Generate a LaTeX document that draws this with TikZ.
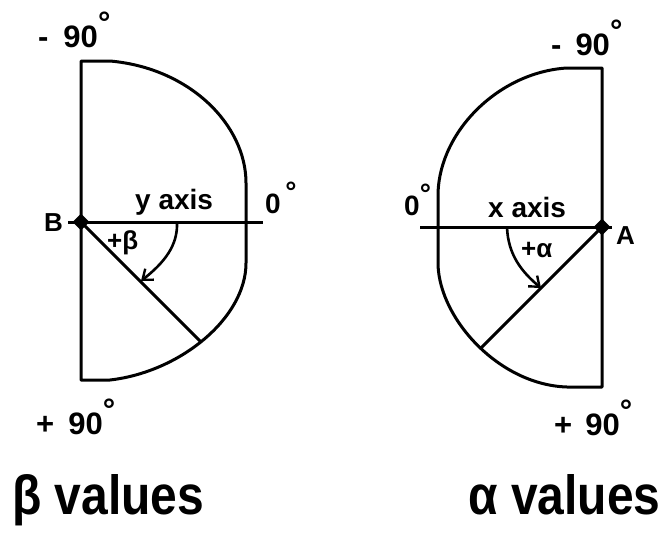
\documentclass[tikz,border=0pt]{standalone}
\usepackage{fontspec}
\setmainfont{Liberation Sans}
\usetikzlibrary{arrows.meta,shapes.geometric,intersections}
\newcommand{\degsym}{\raisebox{.42em}{°}}
\begin{document}
\begin{tikzpicture}[x=1pt,y=-1pt,
  outline/.style={line width=3pt, line join=round},
  pivot/.style={diamond, fill=black, inner sep=0pt, minimum size=17pt},
  lbl/.style={inner sep=0pt, anchor=base west, font=\bfseries\fontsize{28}{28}\selectfont},
  deglbl/.style={lbl, font=\bfseries\fontsize{31}{31}\selectfont},
  smalllbl/.style={lbl, font=\bfseries\fontsize{26}{26}\selectfont},
  biglbl/.style={lbl, font=\bfseries\fontsize{48}{48}\selectfont},
  anglearrow/.style={line width=2.6pt, -{Straight Barb[length=9pt,width=14pt,line width=2.4pt]}}
]
\useasboundingbox (0,0) rectangle (666,536);

% ---------- left figure (beta) ----------
\coordinate (B) at (81,222);
\draw[outline, name path=lshape] (81,61) -- (110,61)
  .. controls (190,68) and (246,125) .. (246,183) -- (246,263)
  .. controls (246,318) and (180,372) .. (110,380) -- (81,380) -- cycle;
\path[name path=ldiag] (91,232) -- (260,401);
\path[name intersections={of=lshape and ldiag, by=Bend}];
\draw[outline] (B) -- (Bend);
\coordinate (yaxL) at (68,222);
\coordinate (yaxR) at (263,222);
\draw[outline] (yaxL) -- (yaxR);
\coordinate (bstart) at (177,222);
\coordinate (bend) at (141,281);
\draw[anglearrow] (bstart) .. controls (178,245) and (165,262) .. (bend);
\node[pivot] (Bdot) at (B) {};

\node[deglbl] (lm90) at (38,47) {-\hspace{15pt}90\degsym};
\node[deglbl] (lp90) at (36,434) {+\hspace{14pt}90\degsym};
\node[smalllbl] (Blbl) at (44,231) {B};
\node[lbl] (ylbl) at (135,209) {y axis};
\node[lbl] (lzero) at (265,213) {0\,\degsym};
\node[smalllbl] (betalbl) at (107,249) {+β};
\node[biglbl] (betaval) at (12,514) {\scalebox{1}[1.15]{β values}};

% ---------- right figure (alpha) ----------
\coordinate (A) at (602,227);
\draw[outline, name path=rshape] (602,68) -- (567,68)
  .. controls (500,72) and (440,130) .. (438,193) -- (438,265)
  .. controls (440,320) and (500,385) .. (567,387) -- (602,387) -- cycle;
\path[name path=rdiag] (592,237) -- (440,389);
\path[name intersections={of=rshape and rdiag, by=Aend}];
\draw[outline] (A) -- (Aend);
\coordinate (xaxL) at (420,227);
\coordinate (xaxR) at (612,227);
\draw[outline] (xaxL) -- (xaxR);
\coordinate (astart) at (507,227);
\coordinate (aend) at (541,288);
\draw[anglearrow] (astart) .. controls (508,255) and (522,272) .. (aend);
\node[pivot] (Adot) at (A) {};

\node[deglbl] (rm90) at (551,55) {-\hspace{14pt}90\degsym};
\node[deglbl] (rp90) at (554,435) {+\hspace{13pt}90\degsym};
\node[smalllbl] (Albl) at (616,244) {A};
\node[lbl] (xlbl) at (488,217) {x axis};
\node[lbl] (rzero) at (404,215) {0\degsym};
\node[smalllbl] (alphalbl) at (521,257) {+α};
\node[biglbl] (alphaval) at (468,514) {\scalebox{1}[1.15]{α values}};
\end{tikzpicture}
\end{document}
